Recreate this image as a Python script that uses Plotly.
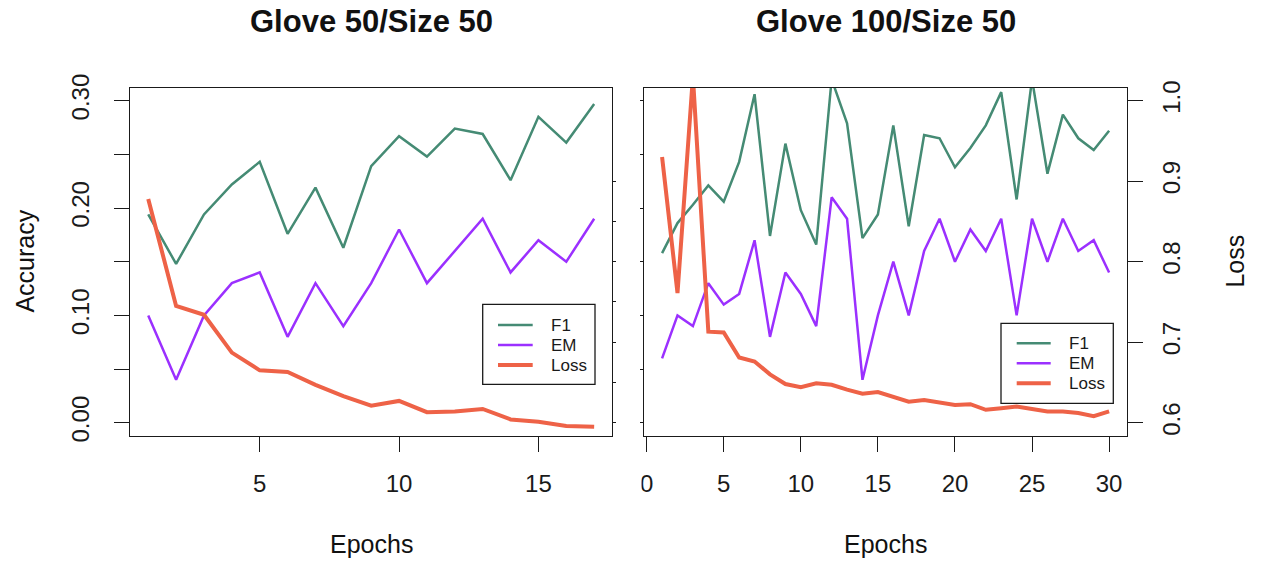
import plotly.graph_objects as go

# ---------------- data ----------------
epochs_a = list(range(1, 18))
f1_a = [0.194, 0.148, 0.194, 0.222, 0.243, 0.176, 0.219, 0.163, 0.239, 0.267,
        0.248, 0.274, 0.269, 0.226, 0.285, 0.261, 0.297]
em_a = [0.10, 0.04, 0.10, 0.13, 0.14, 0.08, 0.13, 0.09, 0.13, 0.18,
        0.13, 0.16, 0.19, 0.14, 0.17, 0.15, 0.19]
loss_a = [0.878, 0.745, 0.734, 0.687, 0.665, 0.663, 0.647, 0.633, 0.621, 0.627,
          0.613, 0.614, 0.617, 0.604, 0.601, 0.596, 0.595]

epochs_b = list(range(1, 31))
f1_b = [0.158, 0.186, 0.203, 0.221, 0.206, 0.243, 0.306, 0.174, 0.260, 0.198,
        0.166, 0.320, 0.279, 0.172, 0.194, 0.277, 0.183, 0.268, 0.265, 0.238,
        0.256, 0.277, 0.308, 0.208, 0.320, 0.232, 0.287, 0.265, 0.254, 0.272]
em_b = [0.06, 0.10, 0.09, 0.13, 0.11, 0.12, 0.17, 0.08, 0.14, 0.12,
        0.09, 0.21, 0.19, 0.04, 0.10, 0.15, 0.10, 0.16, 0.19, 0.15,
        0.18, 0.16, 0.19, 0.10, 0.19, 0.15, 0.19, 0.16, 0.17, 0.14]
loss_b = [0.930, 0.761, 1.030, 0.713, 0.712, 0.681, 0.676, 0.660, 0.648, 0.644,
          0.649, 0.647, 0.641, 0.636, 0.638, 0.632, 0.626, 0.628, 0.625, 0.622,
          0.623, 0.616, 0.618, 0.620, 0.617, 0.614, 0.614, 0.612, 0.608, 0.614]

series_names = ["F1", "EM", "Loss"]
titles = ["Glove 50/Size 50", "Glove 100/Size 50"]
acc_ticks = [0.00, 0.05, 0.10, 0.15, 0.20, 0.25, 0.30]
acc_labels = ["0.00", "", "0.10", "", "0.20", "", "0.30"]
loss_ticks_a = [0.60, 0.65, 0.70, 0.75, 0.80, 0.85, 0.90]
loss_ticks_b = [0.6, 0.7, 0.8, 0.9, 1.0]
loss_labels_b = ["0.6", "0.7", "0.8", "0.9", "1.0"]
x_ticks_a = [5, 10, 15]
x_ticks_b = [0, 5, 10, 15, 20, 25, 30]

# ---------------- style ----------------
C_F1 = "#458B74"
C_EM = "#9B30FF"
C_LOSS = "#EE6247"
COLORS = [C_F1, C_EM, C_LOSS]
WIDTHS = [2.5, 2.5, 4]
FONT = "Liberation Sans, Arial, Helvetica, sans-serif"
INK = "#1a1a1a"
W, H = 1264, 562

def px_x(p):
    return p / W

def px_y(p):
    return 1 - p / H

ydom = [px_y(435.7), px_y(87.5)]
acc_range = [-0.0121, 0.3123]
loss_range = [0.5838, 1.0164]

fig = go.Figure()

panels = [
    (epochs_a, [f1_a, em_a], loss_a, "x", "y", "y2"),
    (epochs_b, [f1_b, em_b], loss_b, "x2", "y3", "y4"),
]
for ep, accs, loss, xa, ya, yl in panels:
    for i, vals in enumerate(accs):
        fig.add_trace(go.Scatter(x=ep, y=vals, mode="lines", name=series_names[i],
                                 line=dict(color=COLORS[i], width=WIDTHS[i]),
                                 xaxis=xa, yaxis=ya, showlegend=False))
    fig.add_trace(go.Scatter(x=ep, y=loss, mode="lines", name=series_names[2],
                             line=dict(color=COLORS[2], width=WIDTHS[2]),
                             xaxis=xa, yaxis=yl, showlegend=False))

axis_common = dict(showgrid=False, zeroline=False, linecolor=INK, linewidth=1.4,
                   tickcolor=INK, tickwidth=1.4,
                   tickfont=dict(family=FONT, size=24, color=INK))

fig.update_layout(
    width=W, height=H,
    margin=dict(l=0, r=0, t=0, b=0, autoexpand=False),
    paper_bgcolor="white", plot_bgcolor="white",
    font=dict(family=FONT, color=INK),
    showlegend=False,
    xaxis=dict(domain=[px_x(130.4), px_x(612.0)], range=[0.36, 17.64], anchor="y",
               tickmode="array", tickvals=x_ticks_a, ticks="outside", ticklen=15,
               showline=True, mirror=True, ticklabelstandoff=11, **axis_common),
    yaxis=dict(domain=ydom, range=acc_range, anchor="x",
               tickmode="array", tickvals=acc_ticks, ticktext=acc_labels,
               ticks="outside", ticklen=15, tickangle=-90,
               showline=True, mirror=True, ticklabelstandoff=16, **axis_common),
    yaxis2=dict(range=loss_range, overlaying="y", side="right", anchor="x",
                tickmode="array", tickvals=loss_ticks_a, ticks="outside", ticklen=3,
                showticklabels=False, showline=False, **axis_common),
    xaxis2=dict(domain=[px_x(644.2), px_x(1127.0)], range=[-0.16, 31.16], anchor="y3",
                tickmode="array", tickvals=x_ticks_b, ticks="outside", ticklen=15,
                showline=True, mirror=True, ticklabelstandoff=11, **axis_common),
    yaxis3=dict(domain=ydom, range=acc_range, anchor="x2",
                tickmode="array", tickvals=acc_ticks, ticks="outside", ticklen=3,
                showticklabels=False, showline=True, mirror=True, **axis_common),
    yaxis4=dict(range=loss_range, overlaying="y3", side="right", anchor="x2",
                tickmode="array", tickvals=loss_ticks_b, ticktext=loss_labels_b,
                ticks="outside", ticklen=15, tickangle=-90,
                showline=False, ticklabelstandoff=8, **axis_common),
)

annos = [
    dict(text="<b>%s</b>" % titles[0], x=px_x(371), y=px_y(22), font_size=31),
    dict(text="<b>%s</b>" % titles[1], x=px_x(885.6), y=px_y(22), font_size=31),
    dict(text="Epochs", x=px_x(371), y=px_y(544), font_size=25),
    dict(text="Epochs", x=px_x(885.6), y=px_y(544), font_size=25),
    dict(text="Accuracy", x=px_x(25), y=px_y(261.6), font_size=25, textangle=-90),
    dict(text="Loss", x=px_x(1235), y=px_y(261.6), font_size=25, textangle=-90),
]
for a in annos:
    fig.add_annotation(xref="paper", yref="paper", showarrow=False,
                       xanchor="center", yanchor="middle",
                       font=dict(family=FONT, color="#111", size=a.pop("font_size")),
                       **a)

# the "0" label of the right panel is cut at the panel's left edge in the original
fig.add_shape(type="rect", xref="paper", yref="paper", layer="above",
              x0=px_x(626), x1=px_x(641.5), y0=px_y(503), y1=px_y(463),
              fillcolor="white", line=dict(width=0))

# legends (R style boxes)
legend_boxes = [
    dict(x0=482.7, x1=595.0, y0=304.3, line_x=(498.0, 532.7), text_x=549.0, rows=(325.0, 345.0, 365.0)),
    dict(x0=1001.0, x1=1113.3, y0=323.3, line_x=(1016.7, 1050.7), text_x=1066.7, rows=(343.3, 363.3, 383.3)),
]
for lb in legend_boxes:
    fig.add_shape(type="rect", xref="paper", yref="paper", layer="above",
                  x0=px_x(lb["x0"]), x1=px_x(lb["x1"]),
                  y0=px_y(lb["y0"] + 80), y1=px_y(lb["y0"]),
                  fillcolor="white", line=dict(color=INK, width=1.3))
    for i, name in enumerate(series_names):
        yy = px_y(lb["rows"][i])
        fig.add_shape(type="line", xref="paper", yref="paper", layer="above",
                      x0=px_x(lb["line_x"][0]), x1=px_x(lb["line_x"][1]), y0=yy, y1=yy,
                      line=dict(color=COLORS[i], width=WIDTHS[i]))
        fig.add_annotation(xref="paper", yref="paper", showarrow=False,
                           x=px_x(lb["text_x"]), y=yy, xanchor="left", yanchor="middle",
                           text=name, font=dict(family=FONT, size=17, color=INK))

fig.write_html("out.html", config={"displayModeBar": False},
               post_script="document.body.style.margin='0';")
